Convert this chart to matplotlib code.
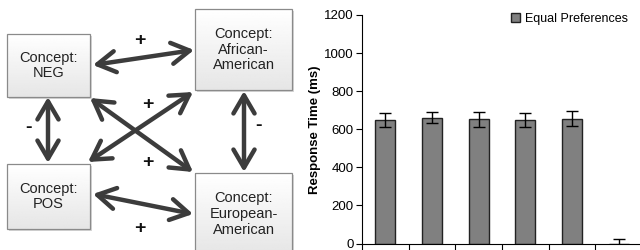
import numpy as np
import matplotlib
matplotlib.use("Agg")
import matplotlib.pyplot as plt
from matplotlib.patches import Rectangle, FancyArrowPatch

plt.rcParams['font.family'] = ['Liberation Sans', 'DejaVu Sans']

# datos del grafico de barras
series_name = "Equal Preferences"
n_groups = 6
rt_means = [648, 660, 653, 648, 655, 0]
rt_errors = [36, 28, 40, 38, 40, 22]
y_ticks = [0, 200, 400, 600, 800, 1000, 1200]

# datos del diagrama
concepts = ["Concept:\nNEG", "Concept:\nAfrican-\nAmerican",
            "Concept:\nPOS", "Concept:\nEuropean-\nAmerican"]
signs = ["+", "-", "+", "-", "+", "+"]

fig = plt.figure(figsize=(6.4, 2.5), dpi=100)

# ---- diagrama (coordenadas en pixeles) ----
ax_d = fig.add_axes([0, 0, 0.5, 1])
ax_d.axis("off")

boxes = [(7, 34, 83, 63), (195, 9, 97, 81), (7, 164, 83, 65), (195, 173, 97, 82)]
grad = np.linspace(1.0, 0.9, 64).reshape(-1, 1)
for (x, y, w, h), label in zip(boxes, concepts):
    shadow = Rectangle((x + 2, y + 2), w, h, facecolor="#bbbbbb", edgecolor="none",
                       alpha=0.6, zorder=1)
    ax_d.add_patch(shadow)
    rect = Rectangle((x, y), w, h, facecolor="none", edgecolor="#8a8a8a", lw=0.9, zorder=3)
    ax_d.add_patch(rect)
    im = ax_d.imshow(grad, cmap="gray", vmin=0, vmax=1, extent=(x, x + w, y + h, y),
                     aspect="auto", zorder=2)
    im.set_clip_path(rect)
    ax_d.text(x + w / 2, y + h / 2, label, ha="center", va="center", fontsize=10.5,
              color="#222222", linespacing=1.15, zorder=4)
ax_d.set_xlim(0, 320)
ax_d.set_ylim(250, 0)

arrows = [((93, 65), (194, 50)),
          ((48, 97), (48, 163)),
          ((244, 91), (244, 172)),
          ((90, 98), (193, 172)),
          ((88, 162), (193, 92)),
          ((93, 194), (193, 214))]
for p1, p2 in arrows:
    arr = FancyArrowPatch(p1, p2, arrowstyle="<->,head_length=0.65,head_width=0.38",
                          mutation_scale=20, lw=3.2, color="#3c3c3c",
                          shrinkA=0, shrinkB=0, zorder=5)
    ax_d.add_patch(arr)

sign_pos = [(140, 40), (29, 128), (148, 104), (258, 125), (148, 163), (140, 228)]
for (x, y), s in zip(sign_pos, signs):
    ax_d.text(x, y, s, ha="center", va="center", fontsize=14, fontweight="bold",
              color="#111111")

# ---- grafico de barras ----
ax = fig.add_axes([362 / 640, 1 - 243.5 / 250, 280 / 640, (243.5 - 15) / 250])
x = np.arange(n_groups) + 0.5
ax.bar(x, rt_means, width=0.43, color="#808080", edgecolor="#222222", lw=1,
       label=series_name, zorder=2)
ax.errorbar(x, rt_means, yerr=rt_errors, fmt="none", ecolor="black", elinewidth=1,
            capsize=4, capthick=1, zorder=3)
ax.set_xlim(0, n_groups)
ax.set_ylim(0, 1200)
ax.set_yticks(y_ticks)
ax.set_xticks(np.arange(n_groups + 1))
ax.set_xticklabels([])
ax.tick_params(axis="x", direction="out", length=4, width=0.8)
ax.tick_params(axis="y", direction="out", length=4, width=0.8, labelsize=9.5, pad=2)
ax.spines["top"].set_visible(False)
ax.spines["right"].set_visible(False)
ax.set_ylabel("Response Time (ms)", fontsize=9.5, fontweight="bold", labelpad=2)
ax.legend(loc="upper right", bbox_to_anchor=(0.99, 1.06), frameon=False, fontsize=9,
          handlelength=0.7, handleheight=0.7, handletextpad=0.4)

fig.savefig("out.png", dpi=100)
